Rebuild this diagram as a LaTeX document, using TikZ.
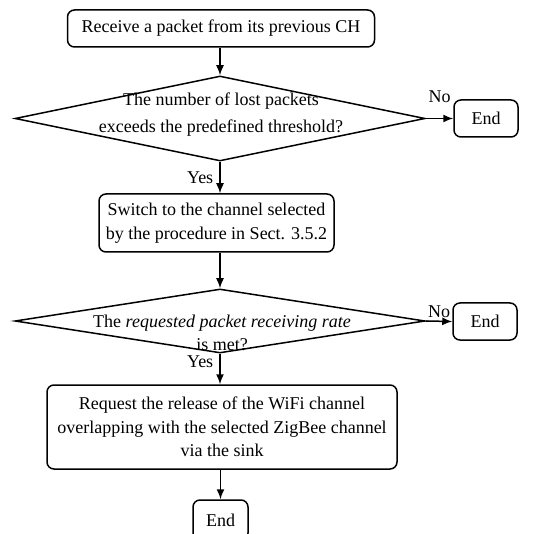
\documentclass[tikz,border=0pt]{standalone}
\usepackage{fontspec}
\setmainfont{Liberation Serif}
\usetikzlibrary{shapes.geometric,arrows.meta}
\begin{document}
\begin{tikzpicture}[x=1pt,y=-1pt,
  box/.style={draw,line width=1.5pt,rounded corners=7pt,align=center,inner sep=0pt,font=\fontsize{18}{23.5}\selectfont},
  dia/.style={draw,diamond,line width=1.5pt,inner sep=0pt},
  txt/.style={align=center,inner sep=0pt,font=\fontsize{18}{23.5}\selectfont},
  lbl/.style={inner sep=0pt,font=\fontsize{18}{22}\selectfont},
  arr/.style={line width=1.5pt,-{Latex[length=10pt,width=8pt]}}]
\useasboundingbox (0,0) rectangle (551,534);
\clip (0,0) rectangle (551,534);
% nodes
\node[box,minimum width=307,minimum height=37] (b1) at (221,28.5) {Receive a packet from its previous CH};
\node[dia,minimum width=410,minimum height=85] (d1) at (220,118.5) {};
\node[txt,font=\fontsize{18}{27}\selectfont] (t1) at (221,115) {The number of lost packets\\exceeds the predefined threshold?};
\node[box,minimum width=64,minimum height=37] (e1) at (486,118.5) {End};
\node[box,minimum width=235,minimum height=58] (b2) at (216.5,223) {Switch to the channel selected\\by the procedure in Sect. 3.5.2};
\node[dia,minimum width=410,minimum height=64] (d2) at (220,321) {};
\node[txt] (t2) at (222,333) {The \textit{requested packet receiving rate}\\is met?};
\node[box,minimum width=64,minimum height=37] (e2) at (485,321.5) {End};
\node[box,minimum width=350,minimum height=84] (b3) at (222,427) {Request the release of the WiFi channel\\overlapping with the selected ZigBee channel\\via the sink};
\node[box,minimum width=55,minimum height=40] (e3) at (220.5,520) {End};
% connectors
\draw[arr] (b1.south -| d1.north) -- (d1.north);
\draw[arr] (d1.east) -- node[lbl,above=15pt] {No} (e1.west);
\draw[arr] (d1.south) -- node[lbl,left=6pt] {Yes} (b2.north -| d1.south);
\draw[arr] (b2.south -| d2.north) -- (d2.north);
\draw[arr] (d2.east) -- node[lbl,above=3pt] {No} (e2.west);
\draw[arr] (d2.south) -- node[lbl,pos=0.27,left=6pt] {Yes} (b3.north -| d2.south);
\draw[arr] (b3.south -| e3.north) -- (e3.north);
\end{tikzpicture}
\end{document}
